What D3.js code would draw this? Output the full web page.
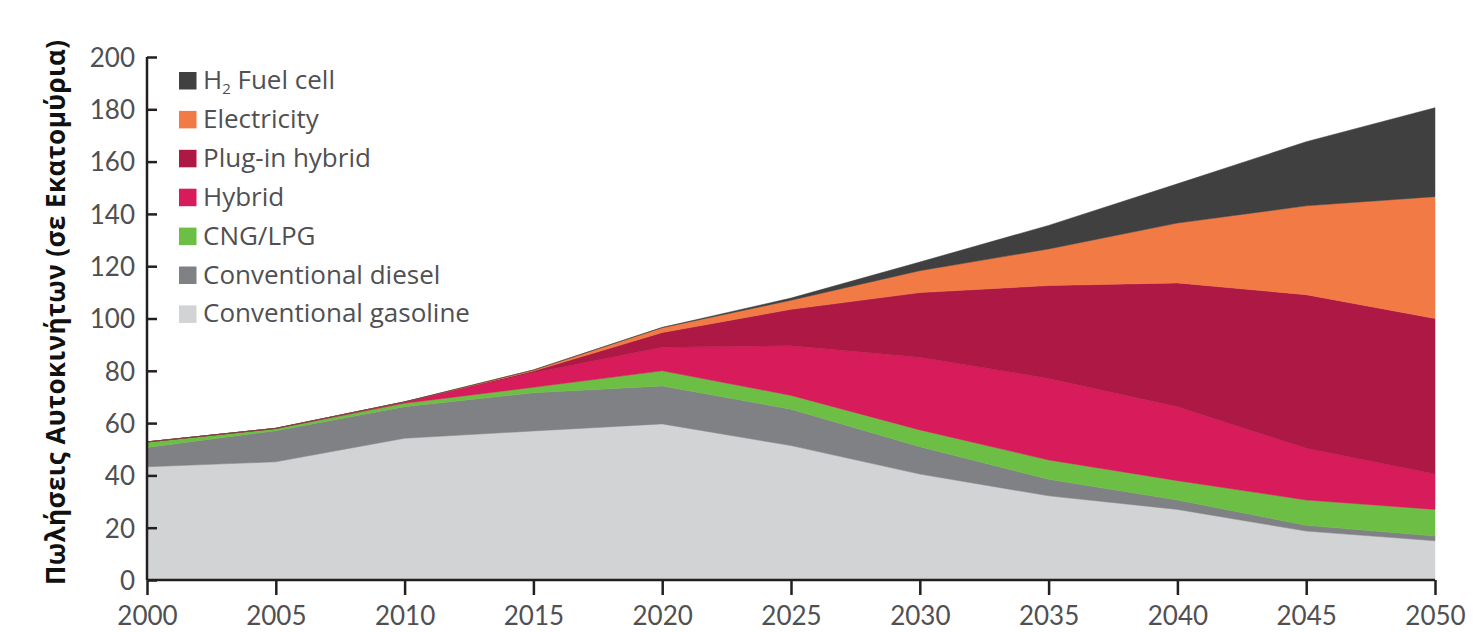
<!DOCTYPE html>
<html>
<head>
<meta charset="utf-8">
<script src="https://cdn.jsdelivr.net/npm/d3@7"></script>
<style>
  html, body { margin: 0; padding: 0; background: #fff; }
  svg { display: block; }
</style>
</head>
<body>
<svg id="chart" width="1475" height="632"></svg>
<script>
const years = [2000, 2005, 2010, 2015, 2020, 2025, 2030, 2035, 2040, 2045, 2050];
const gasoline    = [43.3, 45.2, 54.2, 57.0, 59.7, 51.4, 40.5, 32.2, 27.0, 18.7, 15.0];
const diesel      = [7.4, 11.9, 12.1, 14.6, 14.5, 13.9, 10.5, 6.3, 3.6, 2.2, 1.8];
const cngLpg      = [2.1, 0.8, 1.3, 2.1, 5.8, 5.3, 6.4, 7.4, 7.4, 9.7, 10.2];
const hybrid      = [0, 0.1, 0.5, 5.6, 9.0, 19.0, 27.8, 31.2, 28.3, 19.8, 13.5];
const plugIn      = [0, 0, 0, 0.6, 5.6, 13.9, 24.7, 35.5, 47.3, 58.7, 59.5];
const electricity = [0, 0, 0, 0.4, 1.9, 3.5, 8.4, 14.0, 22.9, 34.0, 46.6];
const h2FuelCell  = [0, 0, 0, 0, 0.1, 0.8, 3.3, 9.0, 15.0, 24.5, 34.0];

const seriesKeys = ["gasoline", "diesel", "cng", "hybrid", "plugin", "electricity", "h2"];
const seriesNames = ["Conventional gasoline", "Conventional diesel", "CNG/LPG", "Hybrid", "Plug-in hybrid", "Electricity", "H2 Fuel cell"];
const seriesColors = ["#d1d3d4", "#808184", "#6dbe45", "#d81b5b", "#ad1845", "#f17a45", "#404040"];
const yTicks = [0, 20, 40, 60, 80, 100, 120, 140, 160, 180, 200];
const xTicks = years;
const yTitle = "Πωλήσεις Αυτοκινήτων (σε Εκατομύρια)";

const seriesValues = [gasoline, diesel, cngLpg, hybrid, plugIn, electricity, h2FuelCell];
const table = years.map((yr, i) => {
  const row = { year: yr };
  seriesKeys.forEach((k, j) => row[k] = seriesValues[j][i]);
  return row;
});

const svg = d3.select("#chart");
const x = d3.scaleLinear().domain([2000, 2050]).range([147, 1435]);
const y = d3.scaleLinear().domain([0, 200]).range([580, 57]);

const stacked = d3.stack().keys(seriesKeys)(table);

const area = d3.area()
  .x(d => x(d.data.year))
  .y0(d => y(d[0]))
  .y1(d => y(d[1]));

svg.append("g").selectAll("path")
  .data(stacked)
  .join("path")
  .attr("d", area)
  .attr("fill", (d, i) => seriesColors[i])
  .attr("stroke", (d, i) => seriesColors[i])
  .attr("stroke-width", 0.5);

const tickColor = "#505053";
const axisColor = "#231f20";
const tickFont = "Lato, 'Open Sans', sans-serif";
const legendFont = "'Open Sans', Lato, sans-serif";

// Y axis
const yAxis = d3.axisRight(y).tickValues(yTicks).tickSize(10).tickFormat(d3.format("d"));
const gy = svg.append("g").attr("transform", "translate(147,0)").call(yAxis);
gy.select(".domain").attr("stroke", axisColor).attr("stroke-width", 2.5).attr("d", `M0,${y(200)}V${y(0)}`);
gy.selectAll(".tick line").attr("stroke", axisColor).attr("stroke-width", 2.5);
gy.selectAll(".tick text")
  .attr("x", -12).attr("text-anchor", "end").attr("dy", "0.36em")
  .attr("fill", tickColor).style("font-family", tickFont).style("font-size", "26px");

// X axis
const xAxis = d3.axisBottom(x).tickValues(xTicks).tickSize(15).tickFormat(d3.format("d"));
const gx = svg.append("g").attr("transform", "translate(0,580)").call(xAxis);
gx.select(".domain").attr("stroke", axisColor).attr("stroke-width", 2.5).attr("d", `M${x(2000)},0H${x(2050)}`);
gx.selectAll(".tick line").attr("stroke", axisColor).attr("stroke-width", 2.5);
gx.selectAll(".tick text")
  .attr("y", 45).attr("dy", 0)
  .attr("fill", tickColor).style("font-family", tickFont).style("font-size", "26px");

// Y title
svg.append("text")
  .attr("transform", `translate(65,${(y(0) + y(200)) / 2 - 6}) rotate(-90)`)
  .attr("text-anchor", "middle")
  .style("font-family", "'Open Sans', sans-serif")
  .style("font-weight", "bold")
  .style("font-size", "26px")
  .attr("textLength", 545)
  .attr("lengthAdjust", "spacing")
  .attr("fill", "#111")
  .text(yTitle);

// Legend (top to bottom: reverse order)
const legend = svg.append("g").attr("transform", "translate(179,72)");
const order = seriesKeys.map((k, i) => i).reverse();
order.forEach((si, r) => {
  const g = legend.append("g").attr("transform", `translate(0,${r * 38.9})`);
  g.append("rect").attr("width", 17.5).attr("height", 17.5).attr("fill", seriesColors[si]);
  const t = g.append("text").attr("x", 24).attr("y", 17)
    .attr("fill", tickColor).style("font-family", legendFont).style("font-size", "26px");
  if (seriesKeys[si] === "h2") {
    t.append("tspan").text("H");
    t.append("tspan").text("2").attr("dy", 5).style("font-size", "15px");
    t.append("tspan").text(" Fuel cell").attr("dy", -5);
  } else {
    t.text(seriesNames[si]);
  }
});
</script>
</body>
</html>
